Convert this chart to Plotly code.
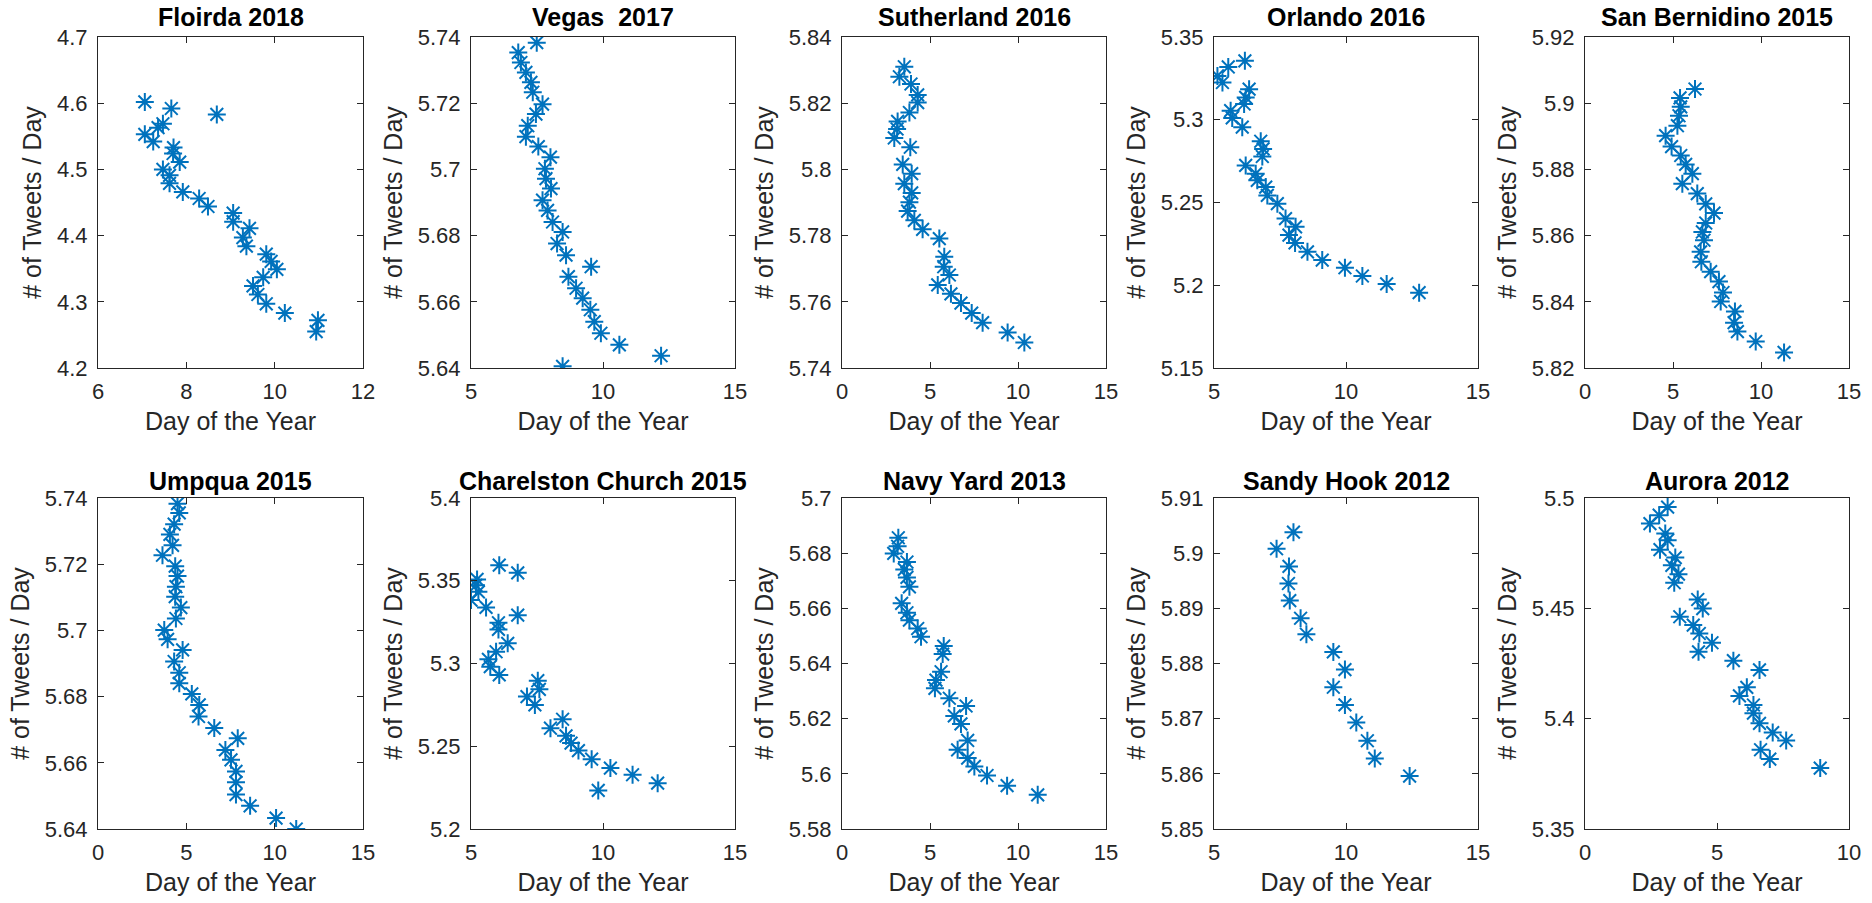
import plotly.graph_objects as go

# ---------------- data ----------------
titles = ["Floirda 2018", "Vegas  2017", "Sutherland 2016", "Orlando 2016", "San Bernidino 2015",
          "Umpqua 2015", "Charelston Church 2015", "Navy Yard 2013", "Sandy Hook 2012", "Aurora 2012"]

florida_x = [7.06, 7.66, 8.69, 7.47, 7.36, 7.06, 7.25, 7.71, 7.70, 7.85, 7.47, 7.62, 7.62, 7.92, 8.29,
             8.49, 9.06, 9.06, 9.43, 9.28, 9.36, 9.81, 9.92, 10.05, 9.74, 9.51, 9.62, 9.81, 10.23, 10.98, 10.94]
florida_y = [4.602, 4.592, 4.583, 4.569, 4.563, 4.553, 4.542, 4.533, 4.524, 4.511, 4.500, 4.491, 4.479, 4.466, 4.456,
             4.444, 4.434, 4.421, 4.411, 4.397, 4.384, 4.372, 4.361, 4.349, 4.337, 4.324, 4.311, 4.297, 4.283, 4.272, 4.255]

vegas_x = [7.49, 6.79, 6.89, 7.08, 7.27, 7.34, 7.71, 7.46, 7.15, 7.08, 7.55, 8.01, 7.80, 7.84, 8.03, 7.71,
           7.90, 8.09, 8.47, 8.26, 8.60, 9.55, 8.69, 8.98, 9.23, 9.52, 9.67, 9.92, 10.62, 12.20, 8.47]
vegas_y = [5.7383, 5.7353, 5.7323, 5.7293, 5.7263, 5.7233, 5.7197, 5.7167, 5.7132, 5.7099, 5.7069, 5.7037, 5.7002,
           5.6972, 5.6942, 5.6907, 5.6876, 5.6841, 5.6811, 5.6776, 5.6741, 5.6706, 5.6676, 5.6641, 5.6611, 5.6576,
           5.6540, 5.6505, 5.6470, 5.6437, 5.6405]

sutherland_x = [3.54, 3.26, 3.92, 4.30, 4.30, 3.83, 3.16, 3.13, 2.97, 3.88, 3.45, 3.96, 3.54, 3.96, 3.83,
                3.73, 4.11, 4.58, 5.53, 5.81, 5.78, 6.10, 5.44, 6.19, 6.76, 7.37, 7.99, 9.41, 10.36]
sutherland_y = [5.8310, 5.8280, 5.8258, 5.8225, 5.8202, 5.8172, 5.8145, 5.8122, 5.8095, 5.8067, 5.8015, 5.7987,
                5.7957, 5.7929, 5.7901, 5.7874, 5.7846, 5.7819, 5.7791, 5.7736, 5.7706, 5.7681, 5.7651, 5.7624,
                5.7596, 5.7566, 5.7537, 5.7507, 5.7477]

orlando_x = [6.17, 5.54, 5.13, 5.32, 6.33, 6.20, 6.14, 5.63, 5.69, 6.07, 6.77, 6.86, 6.83, 6.20, 6.58,
             6.64, 6.96, 7.02, 7.40, 7.71, 8.09, 7.84, 8.07, 8.54, 9.10, 9.96, 10.62, 11.54, 12.77]
orlando_y = [5.3356, 5.3319, 5.3265, 5.3225, 5.3185, 5.3135, 5.3095, 5.3055, 5.3011, 5.2955, 5.2870, 5.2824,
             5.2778, 5.2724, 5.2674, 5.2634, 5.2593, 5.2543, 5.2493, 5.2403, 5.2353, 5.2303, 5.2256, 5.2202,
             5.2152, 5.2106, 5.2056, 5.2008, 5.1955]

sanbern_x = [6.25, 5.40, 5.44, 5.34, 5.25, 4.58, 4.92, 5.44, 5.72, 6.10, 5.53, 6.38, 6.86, 7.33, 6.86,
             6.67, 6.76, 6.57, 6.61, 7.14, 7.61, 7.84, 7.71, 8.52, 8.47, 8.66, 9.70, 11.31]
sanbern_y = [5.9043, 5.9016, 5.8989, 5.8962, 5.8932, 5.8902, 5.8869, 5.8842, 5.8815, 5.8787, 5.8757, 5.8727,
             5.8696, 5.8668, 5.8638, 5.8611, 5.8586, 5.8551, 5.8521, 5.8491, 5.8461, 5.8428, 5.8401, 5.8371,
             5.8337, 5.8310, 5.8280, 5.8247]

umpqua_x = [4.50, 4.60, 4.31, 4.07, 4.22, 3.65, 4.37, 4.50, 4.41, 4.37, 4.69, 4.41, 3.75, 3.94, 4.79, 4.31,
            4.60, 4.60, 5.31, 5.73, 5.69, 6.58, 7.91, 7.21, 7.53, 7.81, 7.81, 7.81, 8.61, 10.08, 11.22]
umpqua_y = [5.7383, 5.7355, 5.7321, 5.7290, 5.7257, 5.7227, 5.7194, 5.7164, 5.7132, 5.7102, 5.7069, 5.7036,
            5.7001, 5.6973, 5.6941, 5.6906, 5.6872, 5.6840, 5.6808, 5.6775, 5.6740, 5.6705, 5.6674, 5.6639,
            5.6609, 5.6574, 5.6541, 5.6504, 5.6470, 5.6433, 5.6400]

charleston_x = [6.07, 6.77, 5.23, 5.19, 5.28, 5.00, 5.57, 6.77, 6.04, 6.04, 6.39, 5.95, 5.66, 5.73, 6.07,
                7.53, 7.59, 7.12, 7.42, 8.47, 8.01, 8.60, 8.79, 9.07, 9.57, 10.28, 11.12, 12.07, 9.82]
charleston_y = [5.3594, 5.3548, 5.3508, 5.3473, 5.3433, 5.3383, 5.3339, 5.3292, 5.3246, 5.3206, 5.3122, 5.3071,
                5.3025, 5.2981, 5.2931, 5.2896, 5.2844, 5.2800, 5.2750, 5.2663, 5.2609, 5.2563, 5.2519, 5.2474,
                5.2422, 5.2368, 5.2328, 5.2277, 5.2233]

navy_x = [3.20, 3.16, 2.94, 3.69, 3.54, 3.69, 3.83, 3.39, 3.69, 3.83, 4.30, 4.49, 5.78, 5.72, 5.63, 5.34,
          5.28, 6.10, 7.05, 6.38, 6.76, 7.14, 6.57, 7.14, 7.52, 8.24, 9.38, 11.12]
navy_y = [5.6856, 5.6825, 5.6799, 5.6768, 5.6741, 5.6712, 5.6678, 5.6618, 5.6584, 5.6557, 5.6527, 5.6497,
          5.6463, 5.6434, 5.6370, 5.6340, 5.6310, 5.6274, 5.6246, 5.6210, 5.6181, 5.6121, 5.6087, 5.6057,
          5.6027, 5.5994, 5.5957, 5.5924]

sandy_x = [8.01, 7.37, 7.84, 7.82, 7.87, 8.28, 8.50, 9.52, 9.96, 9.52, 9.96, 10.39, 10.81, 11.09, 12.41]
sandy_y = [5.9038, 5.9008, 5.8976, 5.8945, 5.8914, 5.8882, 5.8853, 5.8821, 5.8789, 5.8757, 5.8725, 5.8693,
           5.8660, 5.8628, 5.8596]

aurora_x = [3.13, 2.81, 2.46, 3.04, 3.13, 2.84, 3.42, 3.29, 3.54, 3.38, 4.27, 4.46, 3.59, 4.10, 4.33, 4.81,
            4.30, 5.62, 6.61, 6.13, 5.85, 6.38, 6.38, 6.61, 7.11, 7.62, 6.65, 7.00, 8.91]
aurora_y = [5.4959, 5.4922, 5.4884, 5.4839, 5.4809, 5.4766, 5.4730, 5.4695, 5.4655, 5.4616, 5.4540, 5.4499,
            5.4462, 5.4424, 5.4386, 5.4344, 5.4303, 5.4263, 5.4221, 5.4142, 5.4103, 5.4062, 5.4025, 5.3979,
            5.3937, 5.3901, 5.3859, 5.3817, 5.3776]

x_ticks = [[6, 8, 10, 12], [5, 10, 15], [0, 5, 10, 15], [5, 10, 15], [0, 5, 10, 15],
           [0, 5, 10, 15], [5, 10, 15], [0, 5, 10, 15], [5, 10, 15], [0, 5, 10]]
y_ticks = [[4.2, 4.3, 4.4, 4.5, 4.6, 4.7],
           [5.64, 5.66, 5.68, 5.7, 5.72, 5.74],
           [5.74, 5.76, 5.78, 5.8, 5.82, 5.84],
           [5.15, 5.2, 5.25, 5.3, 5.35],
           [5.82, 5.84, 5.86, 5.88, 5.9, 5.92],
           [5.64, 5.66, 5.68, 5.7, 5.72, 5.74],
           [5.2, 5.25, 5.3, 5.35, 5.4],
           [5.58, 5.6, 5.62, 5.64, 5.66, 5.68, 5.7],
           [5.85, 5.86, 5.87, 5.88, 5.89, 5.9, 5.91],
           [5.35, 5.4, 5.45, 5.5]]

x_label = "Day of the Year"
y_label = "# of Tweets / Day"

series = [(florida_x, florida_y), (vegas_x, vegas_y), (sutherland_x, sutherland_y), (orlando_x, orlando_y),
          (sanbern_x, sanbern_y), (umpqua_x, umpqua_y), (charleston_x, charleston_y), (navy_x, navy_y),
          (sandy_x, sandy_y), (aurora_x, aurora_y)]

# ---------------- layout geometry ----------------
W, H = 1872, 903
col_px = [(98, 363), (471, 735), (842, 1106), (1214, 1478), (1585, 1849)]
row_px = [(37, 368), (498, 829)]
title_cy = [17, 481]

BLUE = "#0072BD"
AXC = "#262626"
FONT = "Liberation Sans, Arial, Helvetica, sans-serif"

fig = go.Figure()
annotations = []
layout_axes = {}
for i, ((xs, ys), title) in enumerate(zip(series, titles)):
    r, c = divmod(i, 5)
    n = i + 1
    xa = "x" if n == 1 else f"x{n}"
    ya = "y" if n == 1 else f"y{n}"
    fig.add_trace(go.Scatter(
        x=xs, y=ys, mode="markers", xaxis=xa, yaxis=ya,
        marker=dict(symbol="asterisk-open", size=15, color=BLUE, line=dict(width=2, color=BLUE)),
        showlegend=False, hoverinfo="x+y"))
    x0, x1 = col_px[c]
    y0, y1 = row_px[r]
    xt = x_ticks[i]
    yt = y_ticks[i]
    common = dict(showgrid=False, zeroline=False, showline=True, mirror="ticks", ticks="inside",
                  ticklen=6, tickwidth=1, tickcolor=AXC, linecolor=AXC, linewidth=1, automargin=False,
                  tickfont=dict(family=FONT, size=22, color=AXC))
    layout_axes["xaxis" if n == 1 else f"xaxis{n}"] = dict(
        common, domain=[x0 / W, x1 / W], range=[xt[0], xt[-1]], anchor=ya,
        tickvals=xt, ticktext=[f"{v:g}" for v in xt], ticklabelstandoff=4,
        title=dict(text=x_label, font=dict(family=FONT, size=25, color=AXC), standoff=9))
    layout_axes["yaxis" if n == 1 else f"yaxis{n}"] = dict(
        common, domain=[1 - y1 / H, 1 - y0 / H], range=[yt[0], yt[-1]], anchor=xa,
        tickvals=yt, ticktext=[f"{v:g}" for v in yt], ticklabelstandoff=5,
        title=dict(text=y_label, font=dict(family=FONT, size=25, color=AXC), standoff=8))
    annotations.append(dict(
        text=f"<b>{title}</b>", x=(x0 + x1) / 2 / W, y=1 - title_cy[r] / H, xref="paper", yref="paper",
        xanchor="center", yanchor="middle", showarrow=False,
        font=dict(family=FONT, size=25, color="#000000")))

fig.update_layout(
    width=W, height=H, margin=dict(l=0, r=0, t=0, b=0, autoexpand=False),
    paper_bgcolor="white", plot_bgcolor="white", showlegend=False,
    annotations=annotations, **layout_axes)

fig.write_html("out.html", config={"displayModeBar": False},
               post_script="document.body.style.margin='0px';")
